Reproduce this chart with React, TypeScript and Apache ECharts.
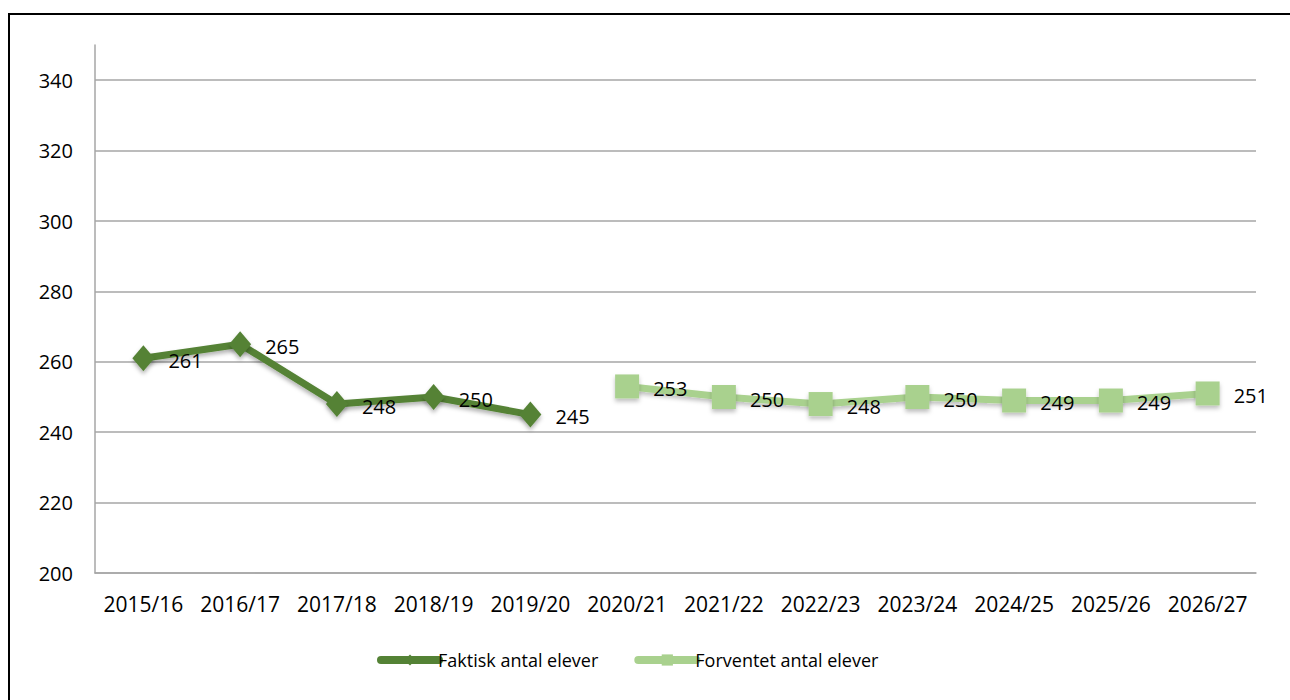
import React, { useEffect, useRef } from "react";
import * as echarts from "echarts";

const categories = [
  "2015/16", "2016/17", "2017/18", "2018/19", "2019/20", "2020/21",
  "2021/22", "2022/23", "2023/24", "2024/25", "2025/26", "2026/27",
];
const faktisk = [261, 265, 248, 250, 245, null, null, null, null, null, null, null];
const forventet = [null, null, null, null, null, 253, 250, 248, 250, 249, 249, 251];
const seriesNames = ["Faktisk antal elever", "Forventet antal elever"];
const yMin = 200;
const yMax = 350;
const yStep = 20;

const FONT = "'Open Sans', 'Liberation Sans', sans-serif";

export default function App() {
  const ref = useRef<HTMLDivElement>(null);
  useEffect(() => {
    if (!ref.current) return;
    const chart = echarts.init(ref.current, null, { renderer: "svg" });
    const labelStyle = {
      show: true,
      position: "right" as const,
      distance: 14,
      color: "#000",
      fontSize: 20,
      fontFamily: FONT,
      offset: [0, 2],
    };
    chart.setOption({
      animation: false,
      backgroundColor: "transparent",
      textStyle: { fontFamily: FONT },
      grid: { left: 95, right: 34, top: 45, bottom: 127, containLabel: false },
      legend: {
        bottom: 26,
        left: 372,
        itemWidth: 58,
        itemHeight: 14,
        itemGap: 36,
        textStyle: { fontSize: 18, color: "#000", fontFamily: FONT, padding: [0, 0, 0, -6] },
        data: seriesNames,
      },
      xAxis: {
        type: "category",
        data: categories,
        boundaryGap: true,
        axisLine: { show: true, lineStyle: { color: "#a6a6a6", width: 1.5 } },
        axisTick: { show: false },
        axisLabel: { color: "#000", fontSize: 21, fontFamily: FONT, margin: 20, interval: 0 },
      },
      yAxis: {
        type: "value",
        min: yMin,
        max: yMax,
        interval: yStep,
        axisLine: { show: true, lineStyle: { color: "#a6a6a6", width: 1.5 } },
        axisTick: { show: false },
        axisLabel: { color: "#000", fontSize: 20, fontFamily: FONT, margin: 22, showMaxLabel: false },
        splitLine: { show: true, showMaxLine: false, lineStyle: { color: "#a6a6a6", width: 1.5 } },
      },
      series: [
        {
          name: seriesNames[0],
          type: "line",
          data: faktisk,
          connectNulls: false,
          symbol: "diamond",
          symbolSize: [22, 26],
          lineStyle: {
            color: "#548235",
            width: 7,
            cap: "round",
            shadowColor: "rgba(0,0,0,0.3)",
            shadowBlur: 4,
            shadowOffsetY: 3,
          },
          itemStyle: {
            color: "#548235",
            shadowColor: "rgba(0,0,0,0.3)",
            shadowBlur: 4,
            shadowOffsetY: 3,
          },
          label: labelStyle,
        },
        {
          name: seriesNames[1],
          type: "line",
          data: forventet,
          connectNulls: false,
          symbol: "rect",
          symbolSize: 24,
          lineStyle: {
            color: "#a9d18e",
            width: 7,
            cap: "round",
            shadowColor: "rgba(0,0,0,0.25)",
            shadowBlur: 4,
            shadowOffsetY: 3,
          },
          itemStyle: {
            color: "#a9d18e",
            shadowColor: "rgba(0,0,0,0.25)",
            shadowBlur: 4,
            shadowOffsetY: 3,
          },
          label: labelStyle,
        },
      ],
    });
    chart.setOption({
      legend: {
        lineStyle: { width: 8, cap: "round" },
      },
    });
    return () => chart.dispose();
  }, []);

  return (
    <div style={{ position: "absolute", left: 0, top: 0, width: 1290, height: 700, overflow: "hidden", background: "#fff" }}>
      <div
        style={{
          position: "absolute",
          left: 8,
          top: 13,
          width: 1300,
          height: 720,
          border: "2px solid #000",
          boxSizing: "border-box",
        }}
      />
      <div ref={ref} style={{ position: "absolute", left: 0, top: 0, width: 1290, height: 700 }} />
    </div>
  );
}
